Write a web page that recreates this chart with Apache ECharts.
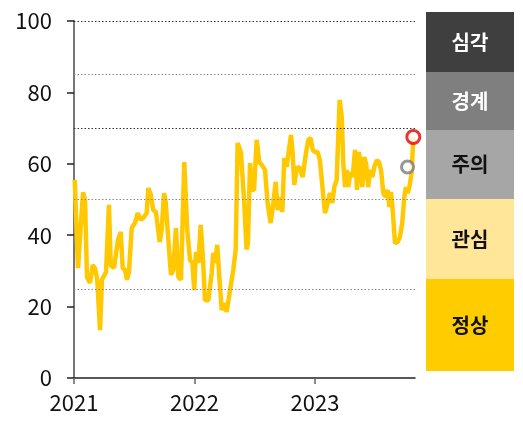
<!DOCTYPE html>
<html>
<head>
<meta charset="utf-8">
<script src="https://cdn.jsdelivr.net/npm/echarts@6/dist/echarts.min.js"></script>
<style>
html,body{margin:0;padding:0;background:#fff;}
#chart{width:523px;height:429px;}
</style>
</head>
<body>
<div id="chart"></div>
<script>
// time position in years (2021 = start)
var timeYears = [
2021.006,2021.033,2021.075,2021.091,2021.108,2021.133,2021.155,2021.174,2021.193,2021.216,
2021.232,2021.266,2021.290,2021.305,2021.332,2021.365,2021.388,2021.404,2021.423,2021.440,
2021.456,2021.479,2021.506,2021.529,2021.554,2021.581,2021.603,2021.617,2021.637,2021.658,
2021.680,2021.711,2021.728,2021.747,2021.761,2021.783,2021.805,2021.824,2021.846,2021.866,
2021.888,2021.915,2021.940,2021.963,2021.982,2021.998,2022.012,2022.032,2022.051,2022.068,
2022.087,2022.115,2022.143,2022.156,2022.170,2022.189,2022.206,2022.226,2022.247,2022.267,
2022.295,2022.322,2022.342,2022.358,2022.386,2022.411,2022.432,2022.444,2022.461,2022.475,
2022.494,2022.516,2022.538,2022.558,2022.585,2022.607,2022.632,2022.654,2022.674,2022.690,
2022.710,2022.729,2022.745,2022.765,2022.784,2022.801,2022.815,2022.828,2022.848,2022.870,
2022.898,2022.925,2022.944,2022.964,2022.981,2023.000,2023.022,2023.041,2023.064,2023.083,
2023.105,2023.124,2023.144,2023.160,2023.180,2023.193,2023.205,2023.222,2023.235,2023.249,
2023.263,2023.276,2023.296,2023.313,2023.332,2023.349,2023.365,2023.382,2023.393,2023.409,
2023.426,2023.442,2023.456,2023.476,2023.492,2023.512,2023.531,2023.548,2023.567,2023.587,
2023.603,2023.617,2023.631,2023.645,2023.664,2023.686,2023.705,2023.724,2023.741,2023.755,
2023.769,2023.783,2023.802,2023.816
];
var indexValues = [
55.5,30.8,52.0,50.0,28.3,26.6,31.6,30.8,27.5,13.4,
27.5,29.7,48.5,31.6,30.8,38.7,40.9,30.8,30.3,27.5,
29.7,42.0,43.4,46.2,44.3,45.1,46.2,53.2,51.3,47.0,
46.5,38.1,41.5,51.8,49.3,38.7,28.9,30.3,42.0,28.3,
27.5,60.5,41.5,33.0,32.5,24.6,35.3,32.2,42.9,35.0,
21.8,21.8,29.4,35.0,32.2,37.3,28.3,19.0,21.0,18.5,
24.6,30.3,35.9,65.8,63.0,50.0,36.0,38.0,60.2,52.7,
52.7,66.7,60.5,59.7,58.3,49.0,43.4,49.0,54.9,47.0,
50.7,46.5,61.6,59.1,63.9,68.1,63.0,54.1,58.8,59.1,
56.3,63.0,66.7,67.2,63.9,63.3,63.3,61.0,52.7,46.2,
49.0,51.8,49.0,53.5,55.5,67.5,77.9,73.1,60.2,53.5,
58.3,53.5,57.7,56.3,63.9,52.7,63.3,58.3,53.5,61.9,
59.7,53.5,58.3,56.3,59.1,61.0,60.5,58.3,51.8,50.7,
52.7,47.9,52.1,47.0,37.8,38.1,39.5,43.4,50.7,53.5,
51.8,53.5,57.4,67.5
];
var previousPoint = [2023.768, 59.1];
var thresholds = [25, 50, 70, 85, 100];
var stageLabels = ['심각', '경계', '주의', '관심', '정상'];
var yearTicks = [2021, 2022, 2023];

var seriesData = timeYears.map(function (t, i) { return [t, indexValues[i]]; });
var lastPoint = seriesData[seriesData.length - 1];

var stageColors = ['#3f3f3f', '#7f7f7f', '#a6a6a6', '#ffe699', '#ffcc00'];
var stageText = ['#ffffff', '#ffffff', '#111111', '#111111', '#111111'];
var stageY = [12, 72, 130, 199, 279, 371];
var graphics = [];
stageLabels.forEach(function (lab, i) {
  graphics.push({
    type: 'rect',
    shape: { x: 426, y: stageY[i], width: 88, height: stageY[i + 1] - stageY[i] },
    style: { fill: stageColors[i] },
    silent: true
  });
  graphics.push({
    type: 'text',
    x: 470, y: (stageY[i] + stageY[i + 1]) / 2,
    style: {
      text: lab, fill: stageText[i], fontSize: 20, fontWeight: 'bold',
      fontFamily: '"Noto Sans CJK KR", sans-serif',
      align: 'center', verticalAlign: 'middle'
    },
    silent: true
  });
});

var chart = echarts.init(document.getElementById('chart'), null, { renderer: 'canvas' });
var font = '"Noto Sans CJK KR", "Noto Sans", sans-serif';
chart.setOption({
  animation: false,
  backgroundColor: '#ffffff',
  grid: { left: 74, right: 108, top: 21, bottom: 51, containLabel: false },
  xAxis: {
    type: 'value',
    min: 2021,
    max: 2023.83,
    interval: 1,
    axisLine: { show: true, onZero: false, lineStyle: { color: '#222', width: 1.5 } },
    axisTick: { show: true, length: 6, lineStyle: { color: '#666', width: 1.5 } },
    axisLabel: {
      fontSize: 22, color: '#111', fontFamily: font, margin: 14,
      showMaxLabel: false,
      formatter: function (v) { return yearTicks.indexOf(Math.round(v)) >= 0 && Math.abs(v - Math.round(v)) < 1e-6 ? String(Math.round(v)) : ''; }
    },
    splitLine: { show: false }
  },
  yAxis: {
    type: 'value',
    min: 0, max: 100, interval: 20,
    axisLine: { show: true, lineStyle: { color: '#777', width: 2 } },
    axisTick: { show: true, length: 7, lineStyle: { color: '#222', width: 1.5 } },
    axisLabel: { fontSize: 22, color: '#111', fontFamily: font, margin: 22 },
    splitLine: { show: false }
  },
  graphic: graphics,
  series: [
    {
      type: 'line',
      data: seriesData,
      showSymbol: false,
      symbol: 'none',
      lineStyle: { color: '#ffc800', width: 4.5 },
      z: 3,
      markLine: {
        silent: true,
        symbol: 'none',
        label: { show: false },
        data: thresholds.map(function (v) {
          var dark = (v === 100 || v === 70);
          return { yAxis: v, lineStyle: { color: dark ? '#333' : '#888', type: [1.5, 2], width: 1 } };
        })
      }
    },
    {
      type: 'scatter',
      data: [previousPoint],
      symbol: 'circle',
      symbolSize: 12,
      itemStyle: { color: '#ffffff', borderColor: '#7a7a7a', borderWidth: 3 },
      z: 5
    },
    {
      type: 'scatter',
      data: [lastPoint],
      symbol: 'circle',
      symbolSize: 13,
      itemStyle: { color: '#ffffff', borderColor: '#e60000', borderWidth: 3 },
      z: 6
    }
  ]
});
</script>
</body>
</html>
